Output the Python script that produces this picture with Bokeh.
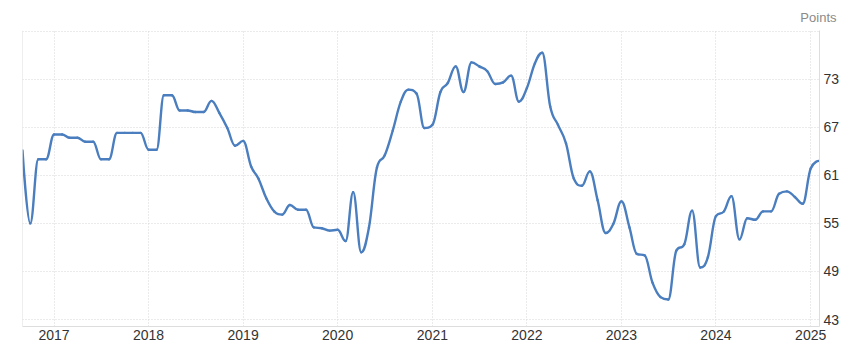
import pandas as pd
from datetime import datetime
from bokeh.plotting import figure
from bokeh.models import FixedTicker, DatetimeTickFormatter, Span, Range1d, ColumnDataSource
from bokeh.embed import file_html
from bokeh.resources import INLINE

# Monthly index values, Sep 2016 .. Feb 2025
start_month = "2016-09-01"
values = [
    64.1, 55.0, 63.0, 63.0,                                              # 2016 Sep-Dec
    66.1, 66.1, 65.7, 65.7, 65.2, 65.2, 63.0, 63.0, 66.3, 66.3, 66.3, 66.3,  # 2017
    64.2, 64.2, 71.0, 71.0, 69.1, 69.1, 68.9, 68.9, 70.3, 68.8, 66.9, 64.7,  # 2018
    65.3, 62.1, 60.6, 58.1, 56.5, 56.1, 57.3, 56.7, 56.7, 54.5, 54.4, 54.1,  # 2019
    54.2, 52.8, 58.9, 51.4, 54.5, 62.0, 63.5, 66.6, 70.2, 71.7, 71.2, 66.9,  # 2020
    67.3, 71.4, 72.5, 74.6, 71.4, 75.1, 74.6, 74.0, 72.4, 72.6, 73.45, 70.2, # 2021
    71.9, 75.0, 76.3, 69.6, 67.3, 65.0, 60.6, 59.7, 61.5, 57.9, 53.8, 54.95, # 2022
    57.75, 54.5, 51.2, 51.0, 47.6, 45.8, 45.5, 51.6, 52.4, 56.6, 49.5, 50.8, # 2023
    55.9, 56.5, 58.4, 53.0, 55.65, 55.45, 56.5, 56.5, 58.7, 59.0, 58.3, 57.45, # 2024
    61.85, 62.8,                                                         # 2025 Jan-Feb
]
year_ticks = [2017, 2018, 2019, 2020, 2021, 2022, 2023, 2024, 2025]
y_ticks = [43, 49, 55, 61, 67, 73]
y_grid = [43, 49, 55, 61, 67, 73, 79]
unit_label = "Points"

dates = pd.date_range(start_month, periods=len(values), freq="MS")
xs = [d.timestamp() * 1000 for d in dates]
ys = list(values)

# Spline rendering (Highcharts-style smoothing of the line between the monthly values)
n = len(ys)
lcx, lcy, rcx, rcy = xs[:], ys[:], xs[:], ys[:]
sm = 1.5
den = sm + 1
for i in range(1, n - 1):
    px, py = xs[i], ys[i]
    lx, ly = xs[i - 1], ys[i - 1]
    nx, ny = xs[i + 1], ys[i + 1]
    a_x = (sm * px + lx) / den
    a_y = (sm * py + ly) / den
    b_x = (sm * px + nx) / den
    b_y = (sm * py + ny) / den
    corr = 0.0
    if b_x != a_x:
        corr = (b_y - a_y) * (b_x - px) / (b_x - a_x) + py - b_y
    a_y += corr
    b_y += corr
    if a_y > ly and a_y > py:
        a_y = max(ly, py); b_y = 2 * py - a_y
    elif a_y < ly and a_y < py:
        a_y = min(ly, py); b_y = 2 * py - a_y
    if b_y > ny and b_y > py:
        b_y = max(ny, py); a_y = 2 * py - b_y
    elif b_y < ny and b_y < py:
        b_y = min(ny, py); a_y = 2 * py - b_y
    lcx[i], lcy[i], rcx[i], rcy[i] = a_x, a_y, b_x, b_y

seg = ColumnDataSource(dict(
    x0=xs[:-1], y0=ys[:-1], x1=xs[1:], y1=ys[1:],
    cx0=rcx[:-1], cy0=rcy[:-1], cx1=lcx[1:], cy1=lcy[1:],
))

x_start = datetime(2016, 9, 1)
x_end = datetime(2025, 2, 4)

p = figure(
    x_axis_type="datetime",
    frame_width=797, frame_height=296,
    min_border_left=22, min_border_top=30, min_border_right=0, min_border_bottom=0,
    y_axis_location="right",
    x_range=Range1d(x_start, x_end),
    y_range=Range1d(42.13, 79.08),
    title=unit_label,
    output_backend="svg", toolbar_location=None,
)
p.title.align = "right"
p.title.offset = -17
p.title.standoff = 12
p.title.text_font = "Liberation Sans"
p.title.text_font_size = "13px"
p.title.text_font_style = "normal"
p.title.text_color = "#8a8a8a"

p.outline_line_color = None
p.background_fill_color = "white"
p.border_fill_color = "white"

p.bezier(x0="x0", y0="y0", x1="x1", y1="y1", cx0="cx0", cy0="cy0", cx1="cx1", cy1="cy1",
         source=seg, line_color="#4a7ebf", line_width=2.4, line_cap="round")

year_ms = [pd.Timestamp(f"{y}-01-01").timestamp() * 1000 for y in year_ticks]
p.xaxis.ticker = FixedTicker(ticks=year_ms)
p.xaxis.formatter = DatetimeTickFormatter(
    years="%Y", months="%Y", days="%Y", hours="%Y", minutes="%Y",
    seconds="%Y", milliseconds="%Y", microseconds="%Y", hourmin="%Y", minsec="%Y")
p.yaxis.ticker = FixedTicker(ticks=y_ticks)
p.ygrid.ticker = FixedTicker(ticks=y_grid)

for ax in (p.xaxis, p.yaxis):
    ax.axis_line_color = "#dddddd"
    ax.axis_line_width = 1
    ax.major_tick_line_color = None
    ax.minor_tick_line_color = None
    ax.major_tick_out = 0
    ax.major_tick_in = 0
    ax.major_label_text_font = "Liberation Sans"
    ax.major_label_text_font_size = "14px"
    ax.major_label_text_color = "#333333"
p.xaxis.major_label_standoff = 3
p.yaxis.major_label_standoff = 4

for g in (p.xgrid, p.ygrid):
    g.grid_line_color = "#d6d6d6"
    g.grid_line_dash = "1 2"
    g.grid_line_width = 1

p.add_layout(Span(location=pd.Timestamp(x_start).timestamp() * 1000, dimension="height",
                  line_color="#dddddd", line_width=1))

open("out.html", "w").write(file_html(p, INLINE))
